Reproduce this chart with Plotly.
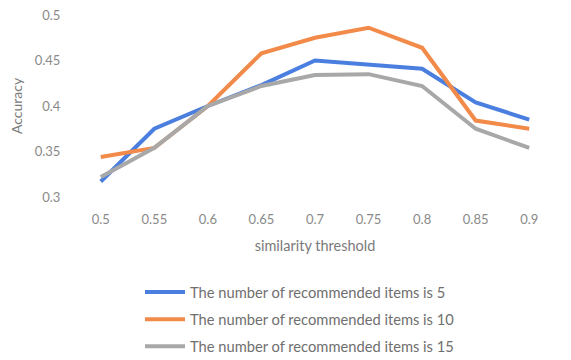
import plotly.graph_objects as go

thresholds = ["0.5", "0.55", "0.6", "0.65", "0.7", "0.75", "0.8", "0.85", "0.9"]
acc_items_5 = [0.317, 0.375, 0.400, 0.423, 0.450, 0.446, 0.441, 0.404, 0.385]
acc_items_10 = [0.344, 0.354, 0.400, 0.458, 0.475, 0.486, 0.464, 0.384, 0.375]
acc_items_15 = [0.322, 0.354, 0.400, 0.422, 0.434, 0.435, 0.422, 0.375, 0.354]
series_names = [
    "The number of recommended items is 5",
    "The number of recommended items is 10",
    "The number of recommended items is 15",
]
series_colors = ["#4a7fe0", "#f28a4a", "#a8a8a8"]
y_ticks = [0.3, 0.35, 0.4, 0.45, 0.5]
y_tick_text = ["0.3", "0.35", "0.4", "0.45", "0.5"]

W, H = 571, 360
fig = go.Figure()
for i, (vals, name, col) in enumerate(zip([acc_items_5, acc_items_10, acc_items_15], series_names, series_colors)):
    fig.add_trace(go.Scatter(
        x=thresholds, y=vals, mode="lines", name=name,
        line=dict(color=col, width=4), legendgroup=f"g{i}",
    ))

font_family = "Lato, Open Sans, sans-serif"
fig.update_layout(
    width=W, height=H,
    margin=dict(l=0, r=0, t=0, b=0, autoexpand=False),
    paper_bgcolor="white", plot_bgcolor="white",
    font=dict(family=font_family, color="#8a8a8a", size=13),
    showlegend=True,
    legend=dict(
        x=140 / W, xanchor="left", y=1 - 276 / H, yanchor="top",
        font=dict(size=14.7, color="#6f6f6f"),
        itemwidth=40,
        tracegroupgap=5, bgcolor="rgba(0,0,0,0)",
    ),
)
fig.update_xaxes(
    domain=[74 / W, 556 / W],
    type="category", range=[-0.5, 8.5],
    showgrid=False, zeroline=False, showline=False, automargin=False,
    ticks="outside", ticklen=10, tickcolor="rgba(0,0,0,0)",
    tickfont=dict(size=13, color="#8a8a8a"),
    title=dict(text="similarity threshold", font=dict(size=14.5, color="#7a7a7a"), standoff=15),
)
fig.update_yaxes(
    domain=[1 - 197 / H, 1 - 15 / H],
    range=[0.3, 0.5], tickvals=y_ticks, ticktext=y_tick_text,
    showgrid=False, zeroline=False, showline=False, automargin=False,
    ticks="outside", ticklen=10, tickcolor="rgba(0,0,0,0)",
    tickfont=dict(size=13, color="#8a8a8a"),
    title=dict(text="Accuracy", font=dict(size=14, color="#7a7a7a"), standoff=8),
)

fig.write_html("out.html")
